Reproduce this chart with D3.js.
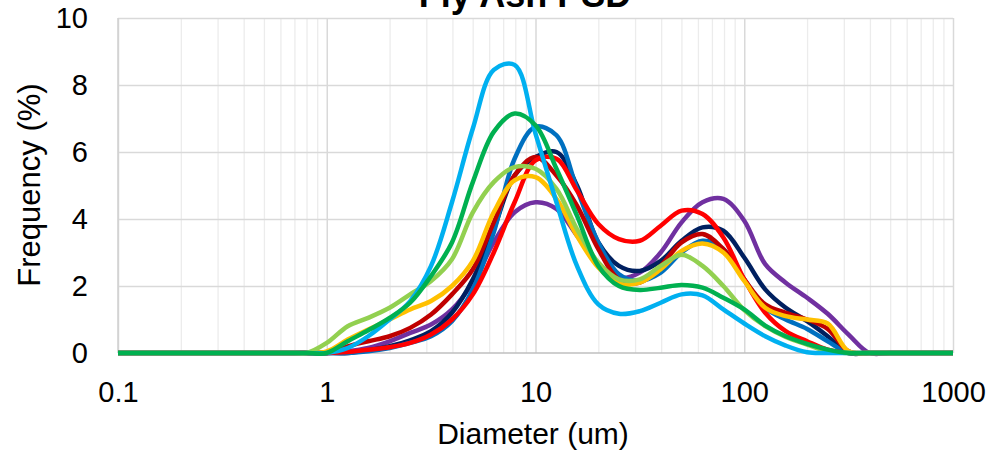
<!DOCTYPE html>
<html>
<head>
<meta charset="utf-8">
<script src="https://cdn.jsdelivr.net/npm/d3@7"></script>
<style>
body { margin: 0; background: #fff; }
text { font-family: "Liberation Sans", Arial, sans-serif; fill: #000; }
</style>
</head>
<body>
<svg id="chart" width="991" height="455"></svg>
<script>
// particle size bins (um) and frequency (%) per sample
const sizes = [0.1, 0.7, 0.8, 1, 1.26, 1.58, 2, 2.51, 3.16, 3.98, 5.01, 6.31, 7.94, 10, 12.6, 15.8, 20, 25.1, 31.6, 39.8, 50.1, 63.1, 79.4, 100, 126, 158, 200, 251, 316, 398, 500, 1000];

const purple = [0, 0, 0, 0, 0.05, 0.15, 0.35, 0.6, 0.85, 1.3, 2.1, 3.3, 4.2, 4.5, 4.3, 3.5, 2.65, 2.25, 2.4, 3.0, 3.9, 4.5, 4.6, 3.95, 2.65, 2.1, 1.65, 1.17, 0.55, 0, 0, 0];
const navy = [0, 0, 0, 0, 0, 0.08, 0.2, 0.38, 0.65, 1.2, 2.2, 3.7, 5.3, 5.85, 6.0, 5.0, 3.3, 2.6, 2.45, 2.75, 3.35, 3.75, 3.65, 2.85, 1.9, 1.35, 0.95, 0.5, 0, 0, 0, 0];
const blue = [0, 0, 0, 0, 0, 0.05, 0.15, 0.3, 0.5, 0.95, 1.9, 3.6, 5.8, 6.75, 6.5, 4.9, 3.3, 2.35, 2.15, 2.4, 3.0, 3.35, 3.1, 2.2, 1.35, 1.0, 0.72, 0.35, 0, 0, 0, 0];
const darkRed = [0, 0, 0, 0, 0.2, 0.35, 0.5, 0.75, 1.15, 1.75, 2.5, 3.9, 5.3, 5.85, 5.3, 4.4, 3.1, 2.2, 2.1, 2.6, 3.3, 3.55, 3.1, 2.2, 1.45, 1.2, 1.0, 0.72, 0.05, 0, 0, 0];
const red = [0, 0, 0, 0, 0.03, 0.1, 0.17, 0.3, 0.55, 1.0, 1.75, 3.0, 4.5, 5.75, 5.8, 4.85, 3.85, 3.4, 3.35, 3.8, 4.25, 4.15, 3.45, 2.2, 1.2, 0.65, 0.35, 0.1, 0, 0, 0, 0];
const yellow = [0, 0, 0, 0.05, 0.4, 0.7, 1.0, 1.3, 1.55, 2.0, 2.75, 4.2, 5.15, 5.25, 4.6, 3.5, 2.55, 2.08, 2.1, 2.5, 3.05, 3.27, 3.0, 2.15, 1.35, 1.1, 1.0, 0.88, 0.05, 0, 0, 0];
const lightGreen = [0, 0, 0, 0.3, 0.8, 1.05, 1.35, 1.75, 2.15, 2.8, 4.2, 5.1, 5.55, 5.5, 4.9, 3.7, 2.7, 2.2, 2.2, 2.6, 2.93, 2.6, 2.0, 1.28, 0.8, 0.48, 0.25, 0.05, 0, 0, 0, 0];
const lightBlue = [0, 0, 0, 0, 0.15, 0.5, 1.0, 1.55, 2.6, 4.5, 6.7, 8.45, 8.6, 6.55, 4.5, 2.6, 1.45, 1.17, 1.25, 1.5, 1.75, 1.72, 1.3, 0.88, 0.5, 0.22, 0.02, 0, 0, 0, 0, 0];
const green = [0, 0, 0, 0, 0.35, 0.68, 1.05, 1.5, 2.3, 3.3, 5.1, 6.6, 7.15, 6.8, 5.5, 4.1, 2.6, 2.0, 1.88, 1.95, 2.03, 1.95, 1.65, 1.3, 0.82, 0.5, 0.27, 0.1, 0, 0, 0, 0];

const seriesValues = [purple, navy, blue, darkRed, red, yellow, lightGreen, lightBlue, green];
const seriesColors = ["#7030A0", "#002060", "#0070C0", "#C00000", "#FF0000", "#FFC000", "#92D050", "#00B0F0", "#00B050"];

const majorTicks = [0.1, 1, 10, 100, 1000];
const yTicks = [0, 2, 4, 6, 8, 10];

const svg = d3.select("#chart");
const width = +svg.attr("width");
const height = +svg.attr("height");
const margin = { top: 18, right: 38, bottom: 102, left: 118 };
const plotWidth = width - margin.left - margin.right;
const plotHeight = height - margin.top - margin.bottom;

const x = d3.scaleLog().domain([0.1, 1000]).range([margin.left, width - margin.right]);
const y = d3.scaleLinear().domain([0, 10]).range([height - margin.bottom, margin.top]);

const minorTicks = x.ticks().filter(d => !majorTicks.some(m => Math.abs(m - d) < 1e-9));

// minor vertical gridlines
svg.append("g")
    .attr("transform", `translate(0,${height - margin.bottom})`)
    .call(d3.axisBottom(x).tickValues(minorTicks).tickSize(-plotHeight).tickFormat(""))
    .call(g => g.select(".domain").remove())
    .call(g => g.selectAll("line").attr("stroke", "#ececec").attr("stroke-width", 1.3));

// major vertical gridlines
svg.append("g")
    .attr("transform", `translate(0,${height - margin.bottom})`)
    .call(d3.axisBottom(x).tickValues(majorTicks).tickSize(-plotHeight).tickFormat(""))
    .call(g => g.select(".domain").remove())
    .call(g => g.selectAll("line").attr("stroke", "#d9d9d9").attr("stroke-width", 1.5));

// horizontal gridlines
svg.append("g")
    .attr("transform", `translate(${margin.left},0)`)
    .call(d3.axisLeft(y).tickValues(yTicks.slice(1)).tickSize(-plotWidth).tickFormat(""))
    .call(g => g.select(".domain").remove())
    .call(g => g.selectAll("line").attr("stroke", "#d9d9d9").attr("stroke-width", 1.5));

// axis lines
svg.append("line")
    .attr("x1", margin.left).attr("x2", margin.left)
    .attr("y1", y(10)).attr("y2", y(0))
    .attr("stroke", "#d0d0d0").attr("stroke-width", 1.5);
svg.append("line")
    .attr("x1", x(0.1)).attr("x2", x(1000))
    .attr("y1", y(0)).attr("y2", y(0))
    .attr("stroke", "#bfbfbf").attr("stroke-width", 1.5);

// tick labels
svg.append("g")
    .attr("transform", `translate(0,${height - margin.bottom})`)
    .call(d3.axisBottom(x).tickValues(majorTicks).tickSize(0).tickPadding(28).tickFormat(d => String(d)))
    .call(g => g.select(".domain").remove())
    .call(g => g.selectAll("text").attr("font-size", 29).attr("font-family", "Liberation Sans, Arial, sans-serif").attr("fill", "#000"));

svg.append("g")
    .attr("transform", `translate(${margin.left},0)`)
    .call(d3.axisLeft(y).tickValues(yTicks).tickSize(0).tickPadding(30))
    .call(g => g.select(".domain").remove())
    .call(g => g.selectAll("text").attr("font-size", 29).attr("font-family", "Liberation Sans, Arial, sans-serif").attr("fill", "#000"));

// lines
const line = d3.line()
    .x((d, i) => x(sizes[i]))
    .y(d => y(d))
    .curve(d3.curveCatmullRom.alpha(0.5));

svg.append("g")
    .selectAll("path")
    .data(seriesValues)
    .join("path")
    .attr("fill", "none")
    .attr("stroke", (d, i) => seriesColors[i])
    .attr("stroke-width", 4.5)
    .attr("stroke-linejoin", "round")
    .attr("d", line);

// titles
svg.append("text")
    .attr("x", 525)
    .attr("y", 7)
    .attr("text-anchor", "middle")
    .attr("font-size", 36)
    .attr("font-weight", "bold")
    .text("Fly Ash PSD");

svg.append("text")
    .attr("x", 533)
    .attr("y", 444)
    .attr("text-anchor", "middle")
    .attr("font-size", 30)
    .text("Diameter (um)");

svg.append("text")
    .attr("transform", "translate(40,185) rotate(-90)")
    .attr("text-anchor", "middle")
    .attr("font-size", 31)
    .text("Frequency (%)");
</script>
</body>
</html>
